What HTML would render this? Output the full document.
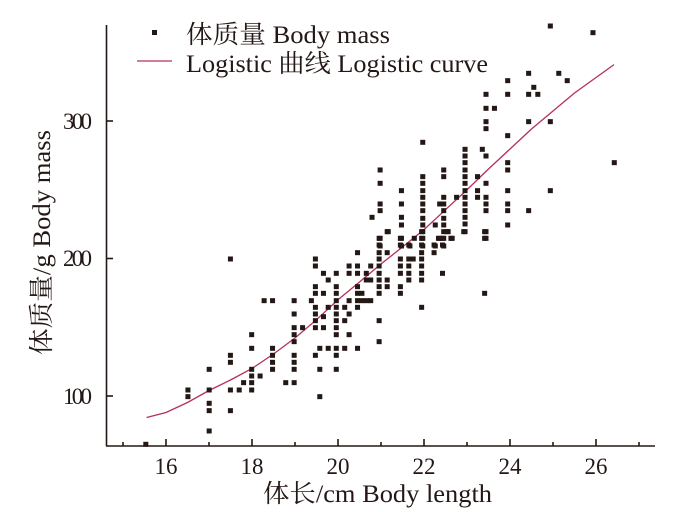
<!DOCTYPE html>
<html><head><meta charset="utf-8"><style>
html,body{margin:0;padding:0;background:#fff;}
svg{display:block;}
text{font-family:"Liberation Serif","Noto Serif CJK SC",serif;fill:#231815;}
</style></head><body>
<svg width="678" height="512" viewBox="0 0 678 512" xmlns="http://www.w3.org/2000/svg">
<g stroke="#231815" stroke-width="1.6" fill="none">
<line x1="106.5" y1="25" x2="106.5" y2="446"/>
<line x1="106" y1="446" x2="655" y2="446"/>
<line x1="106" y1="396" x2="113" y2="396"/>
<line x1="106" y1="258.5" x2="113" y2="258.5"/>
<line x1="106" y1="121" x2="113" y2="121"/>
<line x1="166" y1="446" x2="166" y2="439"/>
<line x1="252" y1="446" x2="252" y2="439"/>
<line x1="338" y1="446" x2="338" y2="439"/>
<line x1="424" y1="446" x2="424" y2="439"/>
<line x1="510" y1="446" x2="510" y2="439"/>
<line x1="596" y1="446" x2="596" y2="439"/>
<line x1="123" y1="446" x2="123" y2="442"/>
<line x1="209" y1="446" x2="209" y2="442"/>
<line x1="295" y1="446" x2="295" y2="442"/>
<line x1="381" y1="446" x2="381" y2="442"/>
<line x1="467" y1="446" x2="467" y2="442"/>
<line x1="553" y1="446" x2="553" y2="442"/>
<line x1="639" y1="446" x2="639" y2="442"/>
</g>
<g font-size="23" text-anchor="end">
<text x="92" y="404" textLength="29">100</text>
<text x="92" y="266" textLength="29">200</text>
<text x="92" y="129" textLength="29">300</text>
</g>
<g font-size="23" text-anchor="middle">
<text x="166" y="474">16</text>
<text x="252" y="474">18</text>
<text x="338" y="474">20</text>
<text x="424" y="474">22</text>
<text x="510" y="474">24</text>
<text x="596" y="474">26</text>
</g>
<text x="263" y="502" font-size="25" textLength="229" lengthAdjust="spacingAndGlyphs">体长/cm Body length</text>
<text transform="translate(50,355) rotate(-90)" font-size="25" textLength="225" lengthAdjust="spacingAndGlyphs">体质量/g Body mass</text>
<rect x="152" y="30" width="5" height="5" fill="#231815"/>
<text x="186" y="43" font-size="25" textLength="204" lengthAdjust="spacingAndGlyphs">体质量 Body mass</text>
<line x1="137" y1="61" x2="172" y2="61" stroke="#b5305a" stroke-width="1.2"/>
<text x="186" y="72" font-size="25" textLength="302" lengthAdjust="spacingAndGlyphs">Logistic 曲线 Logistic curve</text>
<polyline fill="none" stroke="#b5305a" stroke-width="1.3" points="146.6,417.5 166,412.5 187.5,402.5 209,390.5 230.5,380 252,368.5 273.5,354 295,338 316.5,319.7 338,299.75 359.5,282 381,264 402.5,247 424,229.6 445.5,209.7 467,189.75 488.5,169 510,149 531.5,129 553,111 574.5,93 614,64.6"/>
<g fill="#231815">
<g transform="translate(100,230) scale(0.3663,0.3333)">
<g transform="translate(-6.8,-7.5)">
<rect x="125" y="643" width="13.7" height="15"/>
<rect x="240" y="480" width="13.7" height="15"/><rect x="240" y="500" width="13.7" height="15"/>
<rect x="298" y="418" width="13.7" height="15"/><rect x="298" y="480" width="13.7" height="15"/><rect x="298" y="520" width="13.7" height="15"/><rect x="298" y="542" width="13.7" height="15"/><rect x="298" y="603" width="13.7" height="15"/>
<rect x="356" y="87" width="13.7" height="15"/><rect x="356" y="376" width="13.7" height="15"/><rect x="356" y="397" width="13.7" height="15"/><rect x="356" y="480" width="13.7" height="15"/><rect x="356" y="542" width="13.7" height="15"/>
<rect x="380" y="480" width="13.7" height="15"/><rect x="392" y="458" width="13.7" height="15"/>
<rect x="414" y="314" width="13.7" height="15"/><rect x="414" y="355" width="13.7" height="15"/><rect x="414" y="418" width="13.7" height="15"/><rect x="414" y="438" width="13.7" height="15"/><rect x="414" y="458" width="13.7" height="15"/><rect x="414" y="480" width="13.7" height="15"/>
<rect x="437" y="438" width="13.7" height="15"/><rect x="448" y="212" width="13.7" height="15"/><rect x="471" y="212" width="13.7" height="15"/>
<rect x="471" y="355" width="13.7" height="15"/><rect x="471" y="376" width="13.7" height="15"/><rect x="471" y="397" width="13.7" height="15"/><rect x="471" y="418" width="13.7" height="15"/>
<rect x="507" y="458" width="13.7" height="15"/>
<rect x="530" y="212" width="13.7" height="15"/><rect x="530" y="252" width="13.7" height="15"/><rect x="530" y="293" width="13.7" height="15"/><rect x="530" y="314" width="13.7" height="15"/><rect x="530" y="335" width="13.7" height="15"/><rect x="530" y="376" width="13.7" height="15"/><rect x="530" y="397" width="13.7" height="15"/><rect x="530" y="418" width="13.7" height="15"/><rect x="530" y="458" width="13.7" height="15"/>
<rect x="553" y="293" width="13.7" height="15"/><rect x="577" y="212" width="13.7" height="15"/>
<rect x="588" y="87" width="13.7" height="15"/><rect x="588" y="108" width="13.7" height="15"/><rect x="588" y="170" width="13.7" height="15"/><rect x="588" y="190" width="13.7" height="15"/><rect x="588" y="232" width="13.7" height="15"/><rect x="588" y="252" width="13.7" height="15"/><rect x="588" y="272" width="13.7" height="15"/><rect x="588" y="293" width="13.7" height="15"/><rect x="588" y="376" width="13.7" height="15"/>
<rect x="600" y="355" width="13.7" height="15"/><rect x="600" y="418" width="13.7" height="15"/><rect x="600" y="500" width="13.7" height="15"/>
<rect x="610" y="130" width="13.7" height="15"/><rect x="610" y="190" width="13.7" height="15"/><rect x="610" y="260" width="13.7" height="15"/><rect x="610" y="293" width="13.7" height="15"/>
<rect x="623" y="150" width="13.7" height="15"/><rect x="623" y="232" width="13.7" height="15"/><rect x="623" y="355" width="13.7" height="15"/>
<rect x="645" y="130" width="13.7" height="15"/><rect x="645" y="170" width="13.7" height="15"/><rect x="645" y="190" width="13.7" height="15"/><rect x="645" y="212" width="13.7" height="15"/><rect x="645" y="232" width="13.7" height="15"/><rect x="645" y="252" width="13.7" height="15"/><rect x="645" y="272" width="13.7" height="15"/><rect x="645" y="293" width="13.7" height="15"/><rect x="645" y="314" width="13.7" height="15"/><rect x="645" y="355" width="13.7" height="15"/><rect x="645" y="376" width="13.7" height="15"/><rect x="645" y="418" width="13.7" height="15"/>
<rect x="668" y="232" width="13.7" height="15"/><rect x="668" y="272" width="13.7" height="15"/><rect x="668" y="355" width="13.7" height="15"/>
<rect x="680" y="108" width="13.7" height="15"/><rect x="680" y="130" width="13.7" height="15"/><rect x="680" y="212" width="13.7" height="15"/><rect x="680" y="252" width="13.7" height="15"/><rect x="680" y="314" width="13.7" height="15"/>
<rect x="703" y="68" width="13.7" height="15"/><rect x="703" y="108" width="13.7" height="15"/><rect x="703" y="130" width="13.7" height="15"/><rect x="703" y="170" width="13.7" height="15"/><rect x="703" y="190" width="13.7" height="15"/><rect x="703" y="212" width="13.7" height="15"/><rect x="703" y="232" width="13.7" height="15"/><rect x="703" y="355" width="13.7" height="15"/>
<rect x="715" y="190" width="13.7" height="15"/><rect x="715" y="212" width="13.7" height="15"/>
<rect x="727" y="130" width="13.7" height="15"/><rect x="727" y="150" width="13.7" height="15"/><rect x="727" y="212" width="13.7" height="15"/>
<rect x="739" y="108" width="13.7" height="15"/><rect x="739" y="150" width="13.7" height="15"/><rect x="739" y="212" width="13.7" height="15"/>
<rect x="762" y="25" width="13.7" height="15"/><rect x="762" y="45" width="13.7" height="15"/><rect x="762" y="68" width="13.7" height="15"/><rect x="762" y="87" width="13.7" height="15"/><rect x="762" y="108" width="13.7" height="15"/><rect x="762" y="130" width="13.7" height="15"/><rect x="762" y="150" width="13.7" height="15"/><rect x="762" y="170" width="13.7" height="15"/><rect x="762" y="190" width="13.7" height="15"/><rect x="762" y="272" width="13.7" height="15"/><rect x="762" y="335" width="13.7" height="15"/>
<rect x="784" y="5" width="13.7" height="15"/><rect x="784" y="68" width="13.7" height="15"/><rect x="784" y="150" width="13.7" height="15"/><rect x="784" y="170" width="13.7" height="15"/>
<rect x="820" y="25" width="13.7" height="15"/><rect x="820" y="45" width="13.7" height="15"/><rect x="820" y="87" width="13.7" height="15"/><rect x="820" y="108" width="13.7" height="15"/><rect x="820" y="130" width="13.7" height="15"/><rect x="820" y="170" width="13.7" height="15"/><rect x="820" y="190" width="13.7" height="15"/>
<rect x="843" y="45" width="13.7" height="15"/><rect x="843" y="87" width="13.7" height="15"/><rect x="843" y="108" width="13.7" height="15"/><rect x="843" y="130" width="13.7" height="15"/><rect x="843" y="150" width="13.7" height="15"/><rect x="855" y="87" width="13.7" height="15"/>
<rect x="878" y="5" width="13.7" height="15"/><rect x="878" y="25" width="13.7" height="15"/><rect x="878" y="45" width="13.7" height="15"/><rect x="878" y="68" width="13.7" height="15"/><rect x="878" y="87" width="13.7" height="15"/><rect x="878" y="108" width="13.7" height="15"/><rect x="878" y="130" width="13.7" height="15"/><rect x="878" y="150" width="13.7" height="15"/><rect x="878" y="232" width="13.7" height="15"/>
<rect x="912" y="45" width="13.7" height="15"/><rect x="912" y="68" width="13.7" height="15"/>
<rect x="924" y="25" width="13.7" height="15"/><rect x="935" y="25" width="13.7" height="15"/><rect x="935" y="45" width="13.7" height="15"/><rect x="935" y="130" width="13.7" height="15"/><rect x="958" y="25" width="13.7" height="15"/>
<rect x="947" y="5" width="13.7" height="15"/><rect x="993" y="5" width="13.7" height="15"/><rect x="1050" y="5" width="13.7" height="15"/><rect x="1050" y="25" width="13.7" height="15"/><rect x="1050" y="190" width="13.7" height="15"/>
</g></g>
<g transform="translate(100,0) scale(0.3676,0.3333)">
<g transform="translate(-6.8,-7.5)">
<rect x="1225" y="78" width="13.7" height="15"/><rect x="1341" y="98" width="13.7" height="15"/>
<rect x="1166" y="220" width="13.7" height="15"/><rect x="1248" y="220" width="13.7" height="15"/><rect x="1271" y="242" width="13.7" height="15"/><rect x="1109" y="242" width="13.7" height="15"/><rect x="1180" y="262" width="13.7" height="15"/><rect x="1166" y="283" width="13.7" height="15"/><rect x="1191" y="283" width="13.7" height="15"/><rect x="1109" y="283" width="13.7" height="15"/><rect x="1050" y="283" width="13.7" height="15"/>
<rect x="1050" y="325" width="13.7" height="15"/><rect x="1073" y="325" width="13.7" height="15"/><rect x="1050" y="365" width="13.7" height="15"/><rect x="1050" y="386" width="13.7" height="15"/><rect x="1166" y="365" width="13.7" height="15"/><rect x="1225" y="365" width="13.7" height="15"/><rect x="1109" y="407" width="13.7" height="15"/>
<rect x="878" y="427" width="13.7" height="15"/><rect x="1040" y="448" width="13.7" height="15"/><rect x="1050" y="468" width="13.7" height="15"/><rect x="1399" y="488" width="13.7" height="15"/><rect x="1225" y="572" width="13.7" height="15"/>
<rect x="993" y="448" width="13.7" height="15"/><rect x="993" y="468" width="13.7" height="15"/><rect x="993" y="488" width="13.7" height="15"/><rect x="993" y="510" width="13.7" height="15"/><rect x="993" y="530" width="13.7" height="15"/><rect x="993" y="550" width="13.7" height="15"/><rect x="993" y="572" width="13.7" height="15"/><rect x="993" y="592" width="13.7" height="15"/><rect x="993" y="612" width="13.7" height="15"/><rect x="993" y="632" width="13.7" height="15"/><rect x="993" y="652" width="13.7" height="15"/><rect x="993" y="672" width="13.7" height="15"/><rect x="993" y="695" width="13.7" height="15"/>
<rect x="1109" y="488" width="13.7" height="15"/><rect x="1109" y="510" width="13.7" height="15"/><rect x="1109" y="572" width="13.7" height="15"/><rect x="1109" y="612" width="13.7" height="15"/><rect x="1109" y="632" width="13.7" height="15"/><rect x="1109" y="675" width="13.7" height="15"/>
<rect x="1027" y="530" width="13.7" height="15"/><rect x="1027" y="572" width="13.7" height="15"/><rect x="1027" y="592" width="13.7" height="15"/>
<rect x="1050" y="550" width="13.7" height="15"/><rect x="1050" y="592" width="13.7" height="15"/><rect x="1050" y="612" width="13.7" height="15"/><rect x="1050" y="632" width="13.7" height="15"/><rect x="1050" y="695" width="13.7" height="15"/><rect x="1050" y="715" width="13.7" height="15"/>
<rect x="1166" y="632" width="13.7" height="15"/>
<rect x="935" y="510" width="13.7" height="15"/><rect x="935" y="530" width="13.7" height="15"/><rect x="935" y="592" width="13.7" height="15"/><rect x="935" y="612" width="13.7" height="15"/><rect x="935" y="632" width="13.7" height="15"/><rect x="935" y="655" width="13.7" height="15"/><rect x="935" y="675" width="13.7" height="15"/><rect x="935" y="695" width="13.7" height="15"/><rect x="935" y="715" width="13.7" height="15"/><rect x="935" y="738" width="13.7" height="15"/>
<rect x="924" y="612" width="13.7" height="15"/><rect x="970" y="592" width="13.7" height="15"/><rect x="947" y="695" width="13.7" height="15"/><rect x="958" y="715" width="13.7" height="15"/><rect x="924" y="715" width="13.7" height="15"/>
<rect x="878" y="530" width="13.7" height="15"/><rect x="878" y="550" width="13.7" height="15"/><rect x="878" y="572" width="13.7" height="15"/><rect x="878" y="592" width="13.7" height="15"/><rect x="878" y="612" width="13.7" height="15"/><rect x="878" y="632" width="13.7" height="15"/><rect x="878" y="655" width="13.7" height="15"/><rect x="878" y="675" width="13.7" height="15"/><rect x="878" y="695" width="13.7" height="15"/><rect x="878" y="715" width="13.7" height="15"/><rect x="878" y="738" width="13.7" height="15"/>
<rect x="912" y="675" width="13.7" height="15"/><rect x="912" y="738" width="13.7" height="15"/>
<rect x="762" y="510" width="13.7" height="15"/><rect x="762" y="550" width="13.7" height="15"/><rect x="762" y="612" width="13.7" height="15"/><rect x="762" y="632" width="13.7" height="15"/><rect x="762" y="715" width="13.7" height="15"/><rect x="762" y="738" width="13.7" height="15"/>
<rect x="740" y="652" width="13.7" height="15"/><rect x="784" y="695" width="13.7" height="15"/>
<rect x="820" y="572" width="13.7" height="15"/><rect x="820" y="612" width="13.7" height="15"/><rect x="820" y="652" width="13.7" height="15"/><rect x="820" y="675" width="13.7" height="15"/><rect x="820" y="715" width="13.7" height="15"/><rect x="820" y="738" width="13.7" height="15"/>
<rect x="843" y="738" width="13.7" height="15"/><rect x="855" y="715" width="13.7" height="15"/>
</g></g>
</g>
</svg>
</body></html>
